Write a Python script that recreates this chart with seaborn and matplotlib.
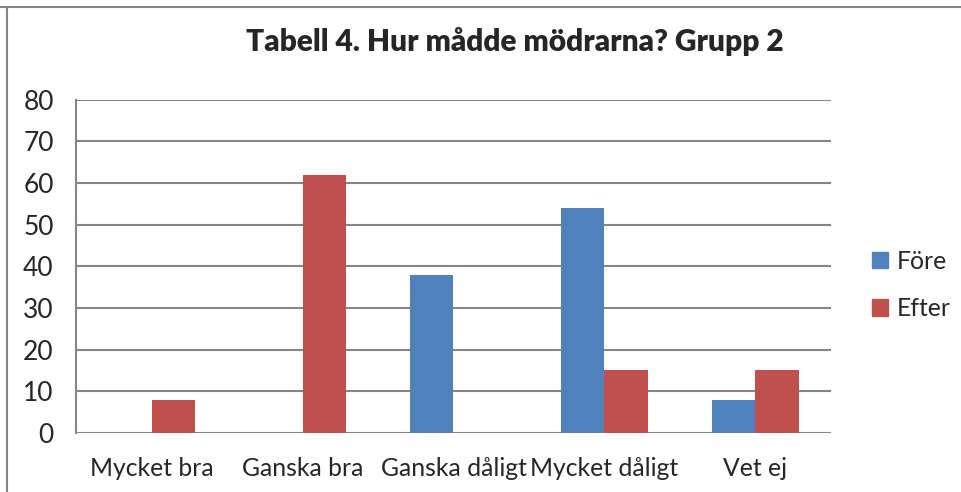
import pandas as pd
import matplotlib.pyplot as plt
import seaborn as sns
from matplotlib.lines import Line2D
from matplotlib.patches import Patch

# Data
kategorier = ["Mycket bra", "Ganska bra", "Ganska dåligt", "Mycket dåligt", "Vet ej"]
fore = [0, 0, 38, 54, 8]
efter = [8, 62, 0, 15, 15]
serier = ["Före", "Efter"]
titel = "Tabell 4. Hur mådde mödrarna? Grupp 2"
y_ticks = [0, 10, 20, 30, 40, 50, 60, 70, 80]

# Visual settings
FARGER = {"Före": "#4F81BD", "Efter": "#C0504D"}
GRID_COLOR = "#868686"
W, H = 962, 492
TICK_SIZE = 17.8

df = pd.DataFrame({
    "Kategori": kategorier * 2,
    "Serie": [serier[0]] * len(kategorier) + [serier[1]] * len(kategorier),
    "Värde": fore + efter,
})

sns.set_theme(style="white")
plt.rcParams["font.family"] = ["Lato", "DejaVu Sans"]

fig = plt.figure(figsize=(W / 100, H / 100), dpi=100)
ax = fig.add_axes([76 / W, (H - 433) / H, (831 - 76) / W, (433 - 99.5) / H])

sns.barplot(data=df, x="Kategori", y="Värde", hue="Serie", palette=FARGER,
            width=0.57, gap=0, linewidth=0, saturation=1, ax=ax, legend=False)

ax.set_ylim(0, 80)
ax.set_xlim(-0.5, len(kategorier) - 0.5)
ax.set_yticks(y_ticks)
ax.set_xlabel("")
ax.set_ylabel("")
ax.grid(axis="y", color=GRID_COLOR, linewidth=1.5)
ax.set_axisbelow(True)
for side in ["top", "right", "bottom"]:
    ax.spines[side].set_visible(False)
ax.spines["left"].set_color(GRID_COLOR)
ax.spines["left"].set_linewidth(1.5)
ax.tick_params(axis="y", length=8, width=1.5, color=GRID_COLOR, pad=8, labelsize=19)
ax.tick_params(axis="x", length=0, pad=17, labelsize=TICK_SIZE)

fig.text(515 / W, 1 - 42 / H, titel, ha="center", va="center",
         fontsize=21.5, fontweight="heavy")

handles = [Patch(color=FARGER[s], label=s) for s in serier]
fig.legend(handles=handles, loc="center left", bbox_to_anchor=(872 / W, 1 - 285 / H),
           frameon=False, fontsize=TICK_SIZE, handlelength=0.65, handleheight=0.65,
           handletextpad=0.35, labelspacing=1.0, borderpad=0, borderaxespad=0)

# chart frame (top and left only)
fig.add_artist(Line2D([0, 1], [1 - 7 / H] * 2, color=GRID_COLOR, linewidth=1.5))
fig.add_artist(Line2D([7 / W] * 2, [0, 1 - 7 / H], color=GRID_COLOR, linewidth=1.5))

fig.savefig("out.png", dpi=100)
